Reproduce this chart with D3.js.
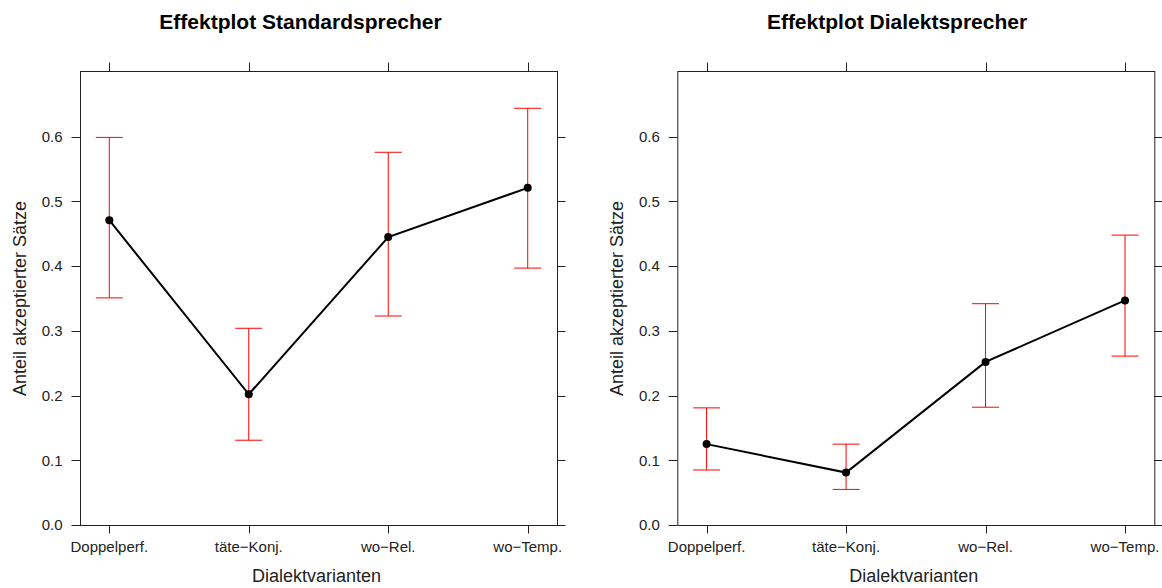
<!DOCTYPE html>
<html>
<head>
<meta charset="utf-8">
<script src="https://cdn.jsdelivr.net/npm/d3@7"></script>
<style>
  body { margin: 0; background: #fff; }
  svg { display: block; font-family: "Liberation Sans", Arial, sans-serif; }
</style>
</head>
<body>
<div id="chart"></div>
<script>
"use strict";
var categories = ["Doppelperf.", "t\u00e4te\u2212Konj.", "wo\u2212Rel.", "wo\u2212Temp."];
var yTicks = [0.0, 0.1, 0.2, 0.3, 0.4, 0.5, 0.6];

var standardFit = [0.471, 0.202, 0.445, 0.521];
var standardLower = [0.351, 0.131, 0.323, 0.397];
var standardUpper = [0.599, 0.304, 0.576, 0.644];

var dialektFit = [0.125, 0.081, 0.252, 0.347];
var dialektLower = [0.085, 0.055, 0.182, 0.261];
var dialektUpper = [0.181, 0.125, 0.342, 0.448];

var panels = [
    { title: "Effektplot Standardsprecher", fit: standardFit, lower: standardLower, upper: standardUpper, left: 80, titleX: 300.5 },
    { title: "Effektplot Dialektsprecher", fit: dialektFit, lower: dialektLower, upper: dialektUpper, left: 677.3, titleX: 897 }
];

var width = 1162, height = 588;
var panelW = 477, plotTop = 71, plotBottom = 525;
var tickLen = 8.5, capHalf = 13.5;
var axisColor = "#222";

var svg = d3.select("#chart").append("svg")
    .attr("width", width)
    .attr("height", height);

var y = d3.scaleLinear().domain([0, 0.7016]).range([plotBottom, plotTop]);

panels.forEach(function (p) {
    var x = d3.scaleLinear().domain([-0.21, categories.length - 1 + 0.21]).range([p.left, p.left + panelW]);
    var g = svg.append("g");

    g.append("text")
        .attr("x", p.titleX)
        .attr("y", 29)
        .attr("text-anchor", "middle")
        .style("font-size", "21px")
        .style("font-weight", "bold")
        .text(p.title);

    g.append("rect")
        .attr("x", p.left + 0.5)
        .attr("y", plotTop + 0.5)
        .attr("width", panelW)
        .attr("height", plotBottom - plotTop)
        .attr("fill", "none")
        .attr("stroke", axisColor)
        .attr("stroke-width", 1);

    // y ticks left and right
    var yt = g.append("g").selectAll("g").data(yTicks).enter().append("g");
    yt.append("line")
        .attr("x1", p.left - tickLen).attr("x2", p.left)
        .attr("y1", function (d) { return Math.round(y(d)) + 0.5; })
        .attr("y2", function (d) { return Math.round(y(d)) + 0.5; })
        .attr("stroke", axisColor);
    yt.append("line")
        .attr("x1", p.left + panelW).attr("x2", p.left + panelW + tickLen)
        .attr("y1", function (d) { return Math.round(y(d)) + 0.5; })
        .attr("y2", function (d) { return Math.round(y(d)) + 0.5; })
        .attr("stroke", axisColor);
    yt.append("text")
        .attr("x", p.left - tickLen - 9)
        .attr("y", function (d) { return y(d); })
        .attr("dy", "0.35em")
        .attr("text-anchor", "end")
        .style("font-size", "15px")
        .attr("fill", "#222")
        .text(function (d) { return d3.format(".1f")(d); });

    // x ticks bottom and top
    var xt = g.append("g").selectAll("g").data(categories).enter().append("g");
    xt.append("line")
        .attr("x1", function (d, i) { return Math.round(x(i)) + 0.5; })
        .attr("x2", function (d, i) { return Math.round(x(i)) + 0.5; })
        .attr("y1", plotBottom).attr("y2", plotBottom + tickLen)
        .attr("stroke", axisColor);
    xt.append("line")
        .attr("x1", function (d, i) { return Math.round(x(i)) + 0.5; })
        .attr("x2", function (d, i) { return Math.round(x(i)) + 0.5; })
        .attr("y1", plotTop - tickLen).attr("y2", plotTop)
        .attr("stroke", axisColor);
    xt.append("text")
        .attr("x", function (d, i) { return x(i); })
        .attr("y", 552)
        .attr("text-anchor", "middle")
        .style("font-size", "15px")
        .attr("fill", "#222")
        .text(function (d) { return d; });

    // axis labels
    g.append("text")
        .attr("x", p.left + panelW / 2 - 2)
        .attr("y", 582)
        .attr("text-anchor", "middle")
        .style("font-size", "18px")
        .attr("fill", "#222")
        .text("Dialektvarianten");
    g.append("text")
        .attr("transform", "translate(" + (p.left - 54.5) + "," + 298.5 + ") rotate(-90)")
        .attr("text-anchor", "middle")
        .style("font-size", "18px")
        .attr("fill", "#222")
        .text("Anteil akzeptierter S\u00e4tze");

    // error bars
    var eb = g.append("g")
        .attr("stroke", "#ff0000")
        .attr("stroke-width", 1)
        .selectAll("g").data(categories).enter().append("g");
    eb.append("line")
        .attr("x1", function (d, i) { return x(i); })
        .attr("x2", function (d, i) { return x(i); })
        .attr("y1", function (d, i) { return y(p.lower[i]); })
        .attr("y2", function (d, i) { return y(p.upper[i]); });
    eb.append("line")
        .attr("x1", function (d, i) { return x(i) - capHalf; })
        .attr("x2", function (d, i) { return x(i) + capHalf; })
        .attr("y1", function (d, i) { return y(p.upper[i]); })
        .attr("y2", function (d, i) { return y(p.upper[i]); });
    eb.append("line")
        .attr("x1", function (d, i) { return x(i) - capHalf; })
        .attr("x2", function (d, i) { return x(i) + capHalf; })
        .attr("y1", function (d, i) { return y(p.lower[i]); })
        .attr("y2", function (d, i) { return y(p.lower[i]); });

    // fitted line and points
    var line = d3.line()
        .x(function (d, i) { return x(i); })
        .y(function (d) { return y(d); });
    g.append("path")
        .datum(p.fit)
        .attr("d", line)
        .attr("fill", "none")
        .attr("stroke", "#000")
        .attr("stroke-width", 2);
    g.append("g").selectAll("circle").data(p.fit).enter().append("circle")
        .attr("cx", function (d, i) { return x(i); })
        .attr("cy", function (d) { return y(d); })
        .attr("r", 4)
        .attr("fill", "#000");
});
</script>
</body>
</html>
